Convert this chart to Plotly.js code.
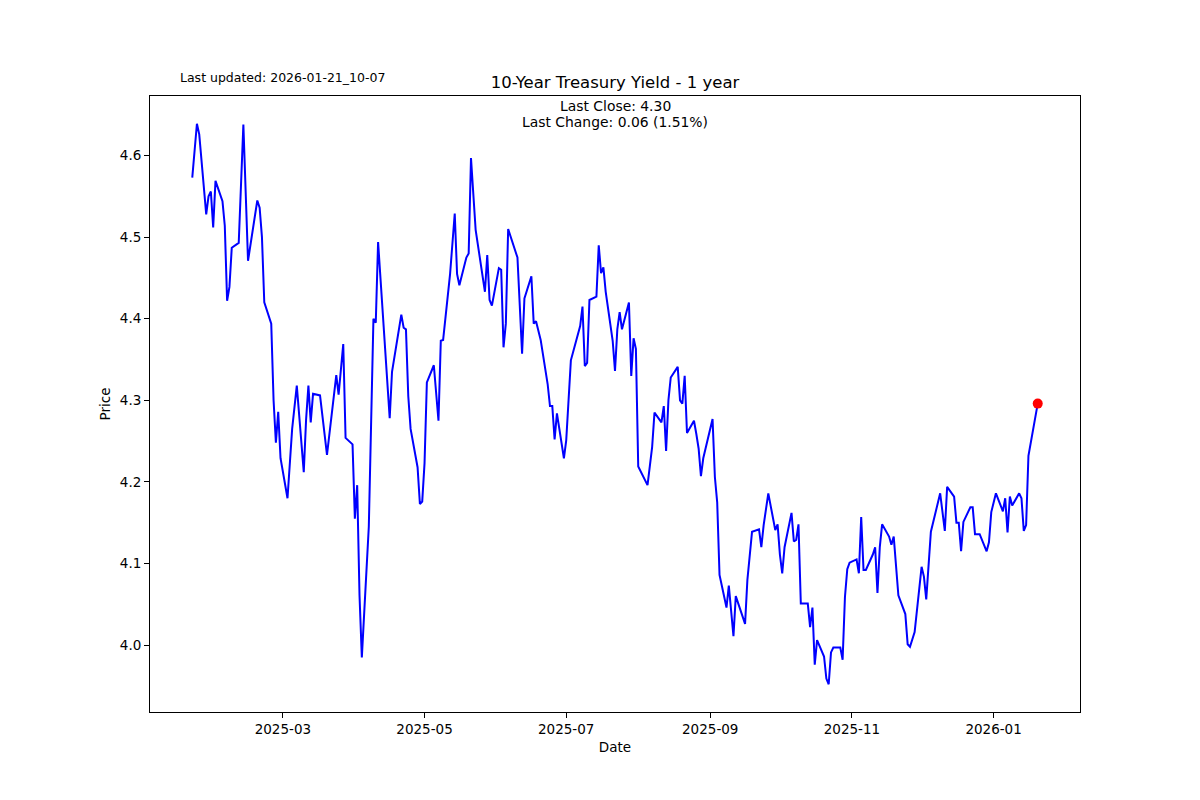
<!DOCTYPE html>
<html>
<head>
<meta charset="utf-8">
<script src="https://cdn.plot.ly/plotly-3.0.1.min.js"></script>
<style>
  html, body { margin: 0; padding: 0; background: #ffffff; }
  #chart { width: 1200px; height: 800px; }
</style>
</head>
<body>
<div id="chart"></div>
<script>
// ---- Data ----
const dates = [
  "2025-01-21","2025-01-23","2025-01-24","2025-01-27","2025-01-28","2025-01-29","2025-01-30","2025-01-31",
  "2025-02-03","2025-02-04","2025-02-05","2025-02-06","2025-02-07","2025-02-10","2025-02-12","2025-02-14",
  "2025-02-18","2025-02-19","2025-02-20","2025-02-21","2025-02-24","2025-02-25","2025-02-26","2025-02-27","2025-02-28",
  "2025-03-03","2025-03-05","2025-03-07","2025-03-10","2025-03-11","2025-03-12","2025-03-13","2025-03-14",
  "2025-03-17","2025-03-20","2025-03-24","2025-03-25","2025-03-27","2025-03-28","2025-03-31",
  "2025-04-01","2025-04-02","2025-04-03","2025-04-04","2025-04-07","2025-04-09","2025-04-10","2025-04-11",
  "2025-04-16","2025-04-17","2025-04-21","2025-04-22","2025-04-23","2025-04-24","2025-04-25","2025-04-28","2025-04-29","2025-04-30",
  "2025-05-01","2025-05-02","2025-05-05","2025-05-07","2025-05-08","2025-05-09","2025-05-12","2025-05-14","2025-05-15","2025-05-16",
  "2025-05-19","2025-05-20","2025-05-21","2025-05-23","2025-05-27","2025-05-28","2025-05-29","2025-05-30",
  "2025-06-02","2025-06-03","2025-06-04","2025-06-05","2025-06-06","2025-06-10","2025-06-12","2025-06-13",
  "2025-06-16","2025-06-17","2025-06-18","2025-06-20","2025-06-23","2025-06-24","2025-06-25","2025-06-26","2025-06-27","2025-06-30",
  "2025-07-01","2025-07-03","2025-07-07","2025-07-08","2025-07-09","2025-07-10","2025-07-11","2025-07-14","2025-07-15","2025-07-16",
  "2025-07-17","2025-07-18","2025-07-21","2025-07-22","2025-07-23","2025-07-24","2025-07-25","2025-07-28","2025-07-29","2025-07-30","2025-07-31",
  "2025-08-01","2025-08-05","2025-08-07","2025-08-08","2025-08-11","2025-08-12","2025-08-13","2025-08-14","2025-08-15",
  "2025-08-18","2025-08-19","2025-08-20","2025-08-21","2025-08-22","2025-08-25","2025-08-26","2025-08-27","2025-08-28","2025-08-29",
  "2025-09-02","2025-09-03","2025-09-04","2025-09-05","2025-09-08","2025-09-09","2025-09-11","2025-09-12","2025-09-16","2025-09-17",
  "2025-09-19","2025-09-22","2025-09-23","2025-09-24","2025-09-26","2025-09-29","2025-09-30",
  "2025-10-01","2025-10-02","2025-10-03","2025-10-06","2025-10-07","2025-10-08","2025-10-09","2025-10-10","2025-10-13","2025-10-14",
  "2025-10-15","2025-10-16","2025-10-17","2025-10-20","2025-10-21","2025-10-22","2025-10-23","2025-10-24","2025-10-27","2025-10-28",
  "2025-10-29","2025-10-30","2025-10-31",
  "2025-11-03","2025-11-04","2025-11-05","2025-11-06","2025-11-07","2025-11-10","2025-11-11","2025-11-12","2025-11-13","2025-11-14",
  "2025-11-17","2025-11-18","2025-11-19","2025-11-20","2025-11-21","2025-11-24","2025-11-25","2025-11-26","2025-11-28",
  "2025-12-01","2025-12-02","2025-12-03","2025-12-05","2025-12-09","2025-12-11","2025-12-12","2025-12-15","2025-12-16","2025-12-17",
  "2025-12-18","2025-12-19","2025-12-22","2025-12-23","2025-12-24","2025-12-26","2025-12-29","2025-12-30","2025-12-31",
  "2026-01-02","2026-01-05","2026-01-06","2026-01-07","2026-01-08","2026-01-09","2026-01-12","2026-01-13","2026-01-14","2026-01-15",
  "2026-01-16","2026-01-20"
];

const prices = [
  4.573,4.639,4.626,4.528,4.550,4.556,4.512,4.569,
  4.544,4.514,4.422,4.439,4.487,4.493,4.638,4.471,
  4.545,4.536,4.500,4.420,4.394,4.300,4.248,4.286,4.229,
  4.180,4.265,4.318,4.212,4.276,4.318,4.273,4.308,
  4.306,4.233,4.331,4.307,4.369,4.254,4.246,
  4.155,4.196,4.061,3.985,4.145,4.400,4.395,4.494,
  4.278,4.335,4.405,4.389,4.387,4.305,4.265,4.218,4.173,4.176,
  4.223,4.322,4.343,4.275,4.373,4.374,4.455,4.529,4.455,4.441,
  4.475,4.480,4.597,4.509,4.433,4.478,4.423,4.416,
  4.462,4.460,4.365,4.394,4.510,4.475,4.357,4.425,
  4.452,4.394,4.397,4.374,4.320,4.293,4.293,4.252,4.284,4.229,
  4.251,4.349,4.391,4.415,4.342,4.346,4.423,4.427,4.490,4.456,
  4.463,4.433,4.373,4.336,4.387,4.408,4.387,4.420,4.330,4.376,4.363,
  4.219,4.196,4.243,4.285,4.273,4.293,4.238,4.300,4.328,
  4.341,4.300,4.296,4.330,4.260,4.275,4.259,4.241,4.207,4.229,
  4.277,4.206,4.175,4.086,4.046,4.073,4.011,4.060,4.026,4.080,
  4.139,4.142,4.120,4.147,4.186,4.141,4.148,
  4.111,4.088,4.120,4.162,4.127,4.129,4.148,4.051,4.051,4.022,
  4.046,3.976,4.006,3.986,3.959,3.952,3.991,3.997,3.997,3.982,
  4.059,4.093,4.101,
  4.105,4.088,4.157,4.092,4.092,4.111,4.120,4.064,4.120,4.148,
  4.133,4.123,4.133,4.096,4.061,4.038,4.001,3.998,4.016,
  4.096,4.084,4.056,4.139,4.186,4.140,4.194,4.182,4.150,4.150,
  4.115,4.151,4.169,4.169,4.136,4.136,4.115,4.126,4.163,
  4.186,4.164,4.180,4.138,4.182,4.171,4.186,4.180,4.140,4.147,
  4.232,4.296
];

const xTickVals = ["2025-03-01","2025-05-01","2025-07-01","2025-09-01","2025-11-01","2026-01-01"];
const yTickVals = [4.0, 4.1, 4.2, 4.3, 4.4, 4.5, 4.6];

const chartTitle = "10-Year Treasury Yield - 1 year";
const updatedText = "Last updated: 2026-01-21_10-07";
const xTitle = "Date";
const yTitle = "Price";

// ---- derived texts ----
const lastVal = prices[prices.length - 1];
const prevVal = prices[prices.length - 2];
const change = lastVal - prevVal;
const pct = change / prevVal * 100;
const closeText = "Last Close: " + lastVal.toFixed(2);
const changeText = "Last Change: " + change.toFixed(2) + " (" + pct.toFixed(2) + "%)";

const FONT = "DejaVu Sans, sans-serif";

const traces = [
  {
    x: dates, y: prices, type: "scatter", mode: "lines",
    line: { color: "#0000ff", width: 2 },
    hoverinfo: "skip", showlegend: false
  },
  {
    x: [dates[dates.length - 1]], y: [lastVal], type: "scatter", mode: "markers",
    marker: { color: "#ff0000", size: 10 },
    hoverinfo: "skip", showlegend: false
  }
];

const axisCommon = {
  showline: true, mirror: true, linecolor: "#000000", linewidth: 1,
  ticks: "outside", ticklen: 5, tickwidth: 1, tickcolor: "#000000",
  showgrid: false, zeroline: false,
  tickfont: { family: FONT, size: 13.5, color: "#000000" }
};

const layout = {
  width: 1200, height: 800,
  paper_bgcolor: "#ffffff", plot_bgcolor: "#ffffff",
  margin: { l: 150, r: 120, t: 96, b: 88, pad: 0 },
  font: { family: FONT, color: "#000000" },
  showlegend: false,
  title: {
    text: chartTitle,
    font: { family: FONT, size: 16.5, color: "#000000" },
    x: 615 / 1200, xanchor: "center", xref: "container",
    y: 1 - 82 / 800, yanchor: "middle", yref: "container"
  },
  xaxis: Object.assign({}, axisCommon, {
    type: "date",
    range: ["2025-01-02 19:12", "2026-02-07 04:48"],
    tickvals: xTickVals, tickformat: "%Y-%m",
    title: { text: xTitle, font: { family: FONT, size: 13.5, color: "#000000" }, standoff: 6 }
  }),
  yaxis: Object.assign({}, axisCommon, {
    range: [3.918, 4.673],
    tickvals: yTickVals, tickformat: ".1f",
    title: { text: yTitle, font: { family: FONT, size: 13.5, color: "#000000" }, standoff: 6 }
  }),
  annotations: [
    {
      text: updatedText, xref: "paper", yref: "paper",
      x: (178 - 150) / 930, xanchor: "left", y: (712 - 78) / 616, yanchor: "middle",
      showarrow: false, font: { family: FONT, size: 12.5, color: "#000000" }
    },
    {
      text: closeText, xref: "paper", yref: "paper",
      x: 0.5, xanchor: "center", y: (712 - 106) / 616, yanchor: "middle",
      showarrow: false, font: { family: FONT, size: 13.9, color: "#000000" }
    },
    {
      text: changeText, xref: "paper", yref: "paper",
      x: 0.5, xanchor: "center", y: (712 - 122) / 616, yanchor: "middle",
      showarrow: false, font: { family: FONT, size: 13.9, color: "#000000" }
    }
  ]
};

Plotly.newPlot("chart", traces, layout, { displayModeBar: false, staticPlot: true });
</script>
</body>
</html>
